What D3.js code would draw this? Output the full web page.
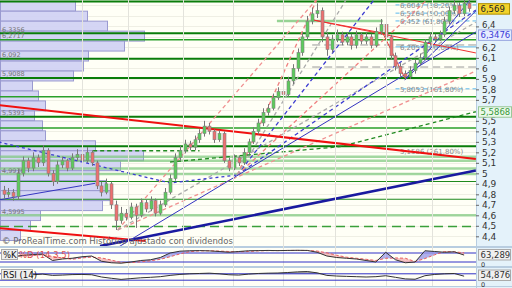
<!DOCTYPE html>
<html><head><meta charset="utf-8">
<script src="https://cdn.jsdelivr.net/npm/d3@7"></script>
<style>body{margin:0;background:#fff}svg{display:block;font-family:"DejaVu Sans",sans-serif}</style>
</head><body><svg id="chart" width="512" height="288"></svg>
<script>
// candles (daily), index 0..95
const opens = [4.84,4.80,4.82,4.78,5.00,5.12,5.05,5.15,5.10,5.22,5.00,4.92,5.08,5.12,5.05,5.15,5.18,5.12,5.20,5.10,
	4.88,4.82,4.90,4.70,4.55,4.62,4.58,4.68,4.60,4.72,4.66,4.74,4.62,4.70,4.82,4.95,5.15,5.22,5.28,5.25,
	5.32,5.38,5.45,5.40,5.32,5.38,5.12,5.05,5.15,5.10,5.20,5.30,5.40,5.48,5.58,5.62,5.72,5.78,5.75,5.88,
	6.00,6.15,6.30,6.45,6.52,6.55,6.30,6.18,6.28,6.32,6.25,6.30,6.22,6.32,6.26,6.30,6.22,6.35,6.42,6.30,
	6.12,6.02,5.95,5.92,5.98,6.05,6.10,6.25,6.30,6.28,6.32,6.45,6.55,6.60,6.52,6.62];
const closes = [4.80,4.82,4.78,5.00,5.12,5.05,5.15,5.10,5.22,5.00,4.92,5.08,5.12,5.05,5.15,5.18,5.12,5.20,5.10,4.88,
	4.82,4.90,4.70,4.55,4.62,4.58,4.68,4.60,4.72,4.66,4.74,4.62,4.70,4.82,4.95,5.15,5.22,5.28,5.25,5.32,
	5.38,5.45,5.40,5.32,5.38,5.12,5.05,5.15,5.10,5.20,5.30,5.40,5.48,5.58,5.62,5.72,5.78,5.75,5.88,6.00,
	6.15,6.30,6.45,6.52,6.55,6.30,6.18,6.28,6.32,6.25,6.30,6.22,6.32,6.26,6.30,6.22,6.35,6.42,6.30,6.12,
	6.02,5.95,5.92,5.98,6.05,6.10,6.25,6.30,6.28,6.32,6.45,6.55,6.60,6.52,6.62,6.57];
const highs = [4.88,4.86,4.85,5.04,5.16,5.15,5.20,5.18,5.27,5.24,5.03,5.12,5.16,5.14,5.19,5.23,5.20,5.25,5.22,5.12,
	4.92,4.95,4.92,4.74,4.68,4.66,4.72,4.71,4.76,4.75,4.78,4.76,4.74,4.86,4.99,5.19,5.26,5.32,5.31,5.36,
	5.42,5.50,5.48,5.42,5.41,5.40,5.15,5.18,5.17,5.24,5.33,5.44,5.52,5.62,5.66,5.76,5.82,5.81,5.92,6.04,
	6.19,6.34,6.50,6.58,6.62,6.58,6.34,6.32,6.37,6.35,6.34,6.33,6.36,6.34,6.34,6.33,6.39,6.47,6.44,6.32,
	6.15,6.05,5.98,6.02,6.08,6.14,6.28,6.34,6.33,6.36,6.49,6.59,6.65,6.63,6.66,6.65];
const lows = [4.76,4.77,4.74,4.75,4.97,5.01,5.02,5.06,5.07,4.97,4.88,4.90,5.05,5.02,5.03,5.12,5.09,5.10,5.07,4.85,
	4.78,4.80,4.66,4.46,4.52,4.55,4.56,4.48,4.58,4.63,4.64,4.59,4.60,4.68,4.80,4.93,5.12,5.19,5.22,5.22,
	5.29,5.35,5.37,5.29,5.30,5.10,5.02,5.03,5.07,5.08,5.18,5.28,5.37,5.45,5.55,5.60,5.70,5.72,5.73,5.85,
	5.97,6.12,6.27,6.42,6.48,6.25,6.12,6.15,6.25,6.22,6.22,6.18,6.19,6.23,6.23,6.19,6.20,6.32,6.27,6.08,
	5.98,5.92,5.89,5.90,5.95,6.03,6.08,6.22,6.25,6.26,6.30,6.42,6.52,6.49,6.50,6.54];

// volume by price, buckets from the top price down
const profileTop = 6.64, profileStep = 0.095;
const profileVol = [75,87,107,144,124,88,83,73,32,38,45,34,42,45,95,143,120,97,105,110,102,40,30,20];

// support / resistance levels
const darkLevels = [6.637, 6.3356, 6.092, 5.9088, 5.5393, 5.258];
const greenLevels = [6.2717, 5.730, 5.432];
const paleLevels = [5.158, 5.120, 5.046, 4.9936, 4.5995];
const thinLevels = [4.922, 4.753];
const dashLevels = [4.493];
const levelLabels = [6.3356, 6.2717, 6.092, 5.9088, 5.5393, 4.9936, 4.5995];

// fibonacci extension levels
const fibPrices = [6.6047, 6.5264, 6.452, 6.205, 5.8053];
const fibNames = ["6,6047 (38,20%)", "6,5264 (50,00%)", "6,452 (61,80%)", "6,205 (100,00%)", "5,8053 (161,80%)"];
const fibExtra = [5.1586, "5,1586 (261,80%)"];
const grayLevels = [6.223, 6.013];

// trend lines as [index, price] pairs
const redThick = [[[-1, 5.651], [96.4, 5.137]], [[-1, 4.479], [29, 4.355]]];
const blueThick = [[19.7, 4.307], [96.4, 5.027]];
const blueThin = [[[-1, 4.746], [18.7, 4.905]], [[22.8, 4.279], [96.4, 6.3476]],
	[[81.9, 5.889], [95.2, 6.652]], [[81.9, 5.889], [96.6, 6.556]]];
const redThin = [[[63.2, 6.461], [77.4, 6.337]], [[77.4, 6.337], [81.9, 5.908]], [[63.2, 6.461], [96.4, 6.147]]];
const fanOrigin = [47.7, 4.984];
const fanBlue = [[96.4, 6.556], [75.6, 6.652]];
const fanPink = [[86.4, 6.652], [63.9, 6.652]];
const fanGray = [[69.9, 6.652]];
const lowOrigin = [23.3, 4.46];
const lowPink = [[63.8, 6.652], [96.4, 5.975]];
const lowGray = [[96.4, 6.44]];
const greenDash = [[[18.3, 5.215], [40, 5.215]], [[34, 5.108], [68.7, 5.254], [96.4, 5.5868]]];
const blueDash = [[-1, 5.299], [34, 4.908], [47.7, 4.984]];
const gridIdx = [16, 25.4, 36.6, 46.9, 57.1, 67.7, 78, 87.5];

// oscillators, one value every two candles
const stochK = [60,55,65,70,72,30,40,45,55,60,25,15,12,20,30,35,50,80,92,95,96,94,90,85,90,95,96,97,96,97,98,97,85,60,50,45,40,30,20,85,35,15,20,95,90,85,88,66];
const stochD = [58,58,60,63,69,57,47,38,47,53,47,33,17,16,21,28,38,55,74,89,94,95,93,90,88,90,94,96,96,97,97,97,93,81,65,52,45,38,30,45,47,45,23,43,68,90,88,81];
const rsi = [52,50,58,64,68,60,62,65,66,64,50,42,35,40,45,48,52,60,66,70,72,74,70,64,62,68,72,74,75,78,82,84,76,60,56,54,52,50,52,58,48,38,36,58,66,70,72,55];

const axisTicks = [4.4,4.5,4.6,4.7,4.8,4.9,5,5.1,5.2,5.3,5.4,5.5,5.7,5.8,5.9,6,6.1,6.2,6.4];

const plotR = 476;
const fmt = v => d3.format(".1~f")(v).replace(".", ",");
let svg = d3.select("#chart");
let x = d3.scaleLinear().domain([0, 95]).range([3.5, 469]);
let y = d3.scaleLinear().domain([4.4, 6.4]).range([236.3, 26.4]);
let vol = d3.scaleLinear().domain([0, 150]).range([0, 150]);
let xo = d3.scaleLinear().domain([0, 47]).range([x(0), x(94)]);
let ys = d3.scaleLinear().domain([0, 100]).range([265, 250]);
let yr = d3.scaleLinear().domain([0, 100]).range([285, 269]);
let line = d3.line().x(d => x(d[0])).y(d => y(d[1]));

svg.append("rect").attr("width", 512).attr("height", 288).attr("fill", "#e4f2fa");
svg.append("rect").attr("width", plotR).attr("height", 246).attr("fill", "#fffff6");
svg.append("rect").attr("y", 248).attr("width", plotR).attr("height", 18).attr("fill", "#fffff6");
svg.append("rect").attr("y", 268).attr("width", plotR).attr("height", 18).attr("fill", "#fffff6");
[246.5, 247.5, 266.5, 267.5, 286.5].forEach(v => svg.append("line").attr("x1", 0).attr("x2", 512)
	.attr("y1", v).attr("y2", v).attr("stroke", "#b8cde0"));
svg.append("line").attr("x1", plotR + .5).attr("x2", plotR + .5).attr("y1", 0).attr("y2", 288).attr("stroke", "#b8cde0");

svg.append("defs").append("clipPath").attr("id", "clipMain")
	.append("rect").attr("width", plotR).attr("height", 246);
let g = svg.append("g").attr("clip-path", "url(#clipMain)");

// grid
g.append("g").selectAll("line").data(d3.range(4.3, 6.7, 0.1)).join("line")
	.attr("x1", 0).attr("x2", plotR).attr("y1", d => Math.round(y(d)) + .5).attr("y2", d => Math.round(y(d)) + .5)
	.attr("stroke", "#efefe4");
svg.append("g").selectAll("line").data(gridIdx).join("line")
	.attr("x1", d => Math.round(x(d)) + .5).attr("x2", d => Math.round(x(d)) + .5)
	.attr("y1", 0).attr("y2", 286).attr("stroke", "#e3e3dc");

// volume profile
g.append("g").selectAll("rect").data(profileVol).join("rect")
	.attr("x", 0.5)
	.attr("y", (d, i) => y(profileTop - i * profileStep))
	.attr("width", d => vol(d))
	.attr("height", (d, i) => y(profileTop - (i + 1) * profileStep) - y(profileTop - i * profileStep))
	.attr("fill", "#cfd0f4").attr("fill-opacity", .9)
	.attr("stroke", "#9a9ad0").attr("stroke-width", 1);

// horizontal levels
function levels(data, color, w, dash, op) {
	g.append("g").selectAll("line").data(data).join("line")
		.attr("x1", 0).attr("x2", plotR).attr("y1", d => y(d)).attr("y2", d => y(d))
		.attr("stroke", color).attr("stroke-width", w).attr("stroke-dasharray", dash)
		.attr("stroke-opacity", op || 1);
}
levels(paleLevels, "#7cc87c", 2.5, null, .7);
levels(greenLevels, "#2aa02a", 1.5);
levels(darkLevels, "#0a7d0a", 2);
levels(thinLevels, "#1e8a1e", 1.2);
levels(dashLevels, "#3aa03a", 1.5, "9,5");
g.append("line").attr("x1", x(55.8)).attr("x2", x(77.4)).attr("y1", y(6.452)).attr("y2", y(6.452))
	.attr("stroke", "#7cc87c").attr("stroke-width", 2.5).attr("stroke-opacity", .8);

g.append("g").selectAll("text").data(levelLabels).join("text")
	.attr("x", 2).attr("y", d => y(d) - 1.5)
	.attr("font-size", 6.5).attr("fill", "#777").text(d => d3.format(".4~f")(d).replace(".", ","));

// fibonacci
g.append("g").selectAll("line").data(fibPrices).join("line")
	.attr("x1", x(80)).attr("x2", plotR).attr("y1", d => y(d)).attr("y2", d => y(d))
	.attr("stroke", "#5ab8ee").attr("stroke-width", 1).attr("stroke-dasharray", (d, i) => i == 3 ? null : "4,3");
g.append("g").selectAll("line").data(grayLevels).join("line")
	.attr("x1", x(63)).attr("x2", plotR).attr("y1", d => y(d)).attr("y2", d => y(d))
	.attr("stroke", "#999").attr("stroke-dasharray", "8,4");
g.append("g").selectAll("text").data(fibPrices).join("text")
	.attr("x", x(80.9)).attr("y", d => y(d) + 3)
	.attr("font-size", 7).attr("fill", "#888").text((d, i) => fibNames[i]);
g.append("text").attr("x", x(80.9)).attr("y", y(fibExtra[0]) - 3)
	.attr("font-size", 7).attr("fill", "#888").text(fibExtra[1]);

// fans
function fan(o, ends, color) {
	ends.forEach(e => g.append("path").attr("d", line([o, e])).attr("fill", "none")
		.attr("stroke", color).attr("stroke-width", 1.3).attr("stroke-dasharray", "4,3"));
}
fan(lowOrigin, lowPink, "#f09090");
fan(lowOrigin, lowGray, "#aaa");
fan(fanOrigin, fanBlue, "#3c3cd0");
fan(fanOrigin, fanPink, "#f08080");
fan(fanOrigin, fanGray, "#aaa");
g.append("path").attr("d", line(blueDash)).attr("fill", "none")
	.attr("stroke", "#3c3cd0").attr("stroke-width", 1.3).attr("stroke-dasharray", "3,3");
greenDash.forEach(p => g.append("path").attr("d", line(p)).attr("fill", "none")
	.attr("stroke", "#208a20").attr("stroke-width", 1.3).attr("stroke-dasharray", "4,3"));

// trend lines
redThick.forEach(p => g.append("path").attr("d", line(p)).attr("stroke", "#f01010").attr("stroke-width", 2));
g.append("path").attr("d", line(blueThick)).attr("stroke", "#1a1aa0").attr("stroke-width", 2.5);
blueThin.forEach(p => g.append("path").attr("d", line(p)).attr("stroke", "#3535c0").attr("stroke-width", 1));
redThin.forEach(p => g.append("path").attr("d", line(p)).attr("stroke", "#f03030").attr("stroke-width", 1));

// candles
let idx = d3.range(closes.length);
let c = g.append("g").selectAll("g").data(idx).join("g");
c.append("line").attr("x1", i => Math.round(x(i)) + .5).attr("x2", i => Math.round(x(i)) + .5)
	.attr("y1", i => y(highs[i])).attr("y2", i => y(lows[i])).attr("stroke", "#777");
c.append("rect").attr("x", i => Math.round(x(i)) - 1)
	.attr("y", i => y(Math.max(opens[i], closes[i])))
	.attr("width", 3).attr("height", i => Math.max(1, Math.abs(y(opens[i]) - y(closes[i]))))
	.attr("fill", i => closes[i] >= opens[i] ? "#5ccc5c" : "#ee7070")
	.attr("stroke", "#808080").attr("stroke-width", .6);

// copyright
svg.append("text").attr("x", 2).attr("y", 244).attr("font-size", 8.5).attr("fill", "#666")
	.text("© ProRealTime.com  Histórico ajustado con dividendos");

// right axis
let ax = svg.append("g").attr("transform", `translate(${plotR},0)`)
	.call(d3.axisRight(y).tickValues(axisTicks).tickFormat(fmt).tickSize(3).tickPadding(3));
ax.select(".domain").remove();
ax.selectAll("line").attr("stroke", "#666");
ax.selectAll("text").attr("font-size", 9).attr("fill", "#333").attr("font-family", "DejaVu Sans");
ax.selectAll(".tick").filter(d => d == 6.4).select("text").attr("dy", "0.1em").attr("font-size", 8.5);

function box(px, py, w, txt, bg, border, col) {
	svg.append("rect").attr("x", px).attr("y", py - 5).attr("width", w).attr("height", 10.5)
		.attr("fill", bg).attr("stroke", border);
	svg.append("text").attr("x", px + 2).attr("y", py + 3.3).attr("font-size", 8.5).attr("fill", col).text(txt);
}
box(478.5, y(6.569), 31, "6,569", "#f2d22a", "#b09000", "#222");
box(478.5, y(6.3476) + 3, 33, "6,3476", "#e6ecff", "#9aa8e0", "#3a3ad8");
box(478.5, y(5.5868), 33, "5,5868", "#eaf8ea", "#9ac89a", "#3a9a3a");

// stochastic panel
[20, 80].forEach(v => svg.append("line").attr("x1", 0).attr("x2", plotR).attr("y1", ys(v)).attr("y2", ys(v))
	.attr("stroke", "#3030c8"));
for (let i = 0; i < stochK.length - 1; i++) {
	let up = stochK[i] + stochK[i + 1] > stochD[i] + stochD[i + 1];
	let pts = [[xo(i), ys(stochK[i])], [xo(i + 1), ys(stochK[i + 1])], [xo(i + 1), ys(stochD[i + 1])], [xo(i), ys(stochD[i])]];
	svg.append("path").attr("d", "M" + pts.join("L") + "Z").attr("fill", up ? "#9a9ae8" : "#f4b0b0").attr("opacity", .8);
}
svg.append("path").datum(stochD).attr("d", d3.line().x((d, i) => xo(i)).y(d => ys(d)))
	.attr("fill", "none").attr("stroke", "#e86060").attr("stroke-dasharray", "3,2");
svg.append("path").datum(stochK).attr("d", d3.line().x((d, i) => xo(i)).y(d => ys(d)))
	.attr("fill", "none").attr("stroke", "#333").attr("stroke-width", 1);
svg.append("rect").attr("x", 1.5).attr("y", 249.5).attr("width", 16).attr("height", 10).attr("fill", "#eee").attr("stroke", "#aaa");
svg.append("text").attr("x", 3).attr("y", 257.5).attr("font-size", 8.5).attr("fill", "#111").text("%K");
svg.append("text").attr("x", 19).attr("y", 257.5).attr("font-size", 8.5).attr("fill", "#e05050").text("%D (14 3 5)");

// rsi panel
svg.append("path").datum(rsi).attr("d", d3.area().x((d, i) => xo(i)).y0(yr(70)).y1(d => yr(Math.max(70, d))))
	.attr("fill", "#a8a8a8");
[30, 70].forEach(v => svg.append("line").attr("x1", 0).attr("x2", plotR).attr("y1", yr(v)).attr("y2", yr(v))
	.attr("stroke", "#3030c8"));
svg.append("path").datum(rsi).attr("d", d3.line().x((d, i) => xo(i)).y(d => yr(d)))
	.attr("fill", "none").attr("stroke", "#333");
svg.append("rect").attr("x", 1.5).attr("y", 269.5).attr("width", 31).attr("height", 10).attr("fill", "#eee").attr("stroke", "#aaa");
svg.append("text").attr("x", 3).attr("y", 277.5).attr("font-size", 8.5).attr("fill", "#111").text("RSI (14)");

box(478.5, 254.5, 32, "63,289", "#f0f0f0", "#aaa", "#333");
box(478.5, 275, 32, "54,876", "#f0f0f0", "#aaa", "#333");
svg.append("text").attr("x", 481).attr("y", 266.5).attr("font-size", 6.5).attr("fill", "#333").text("0");
svg.append("text").attr("x", 481).attr("y", 286.5).attr("font-size", 6.5).attr("fill", "#333").text("0");
</script></body></html>
